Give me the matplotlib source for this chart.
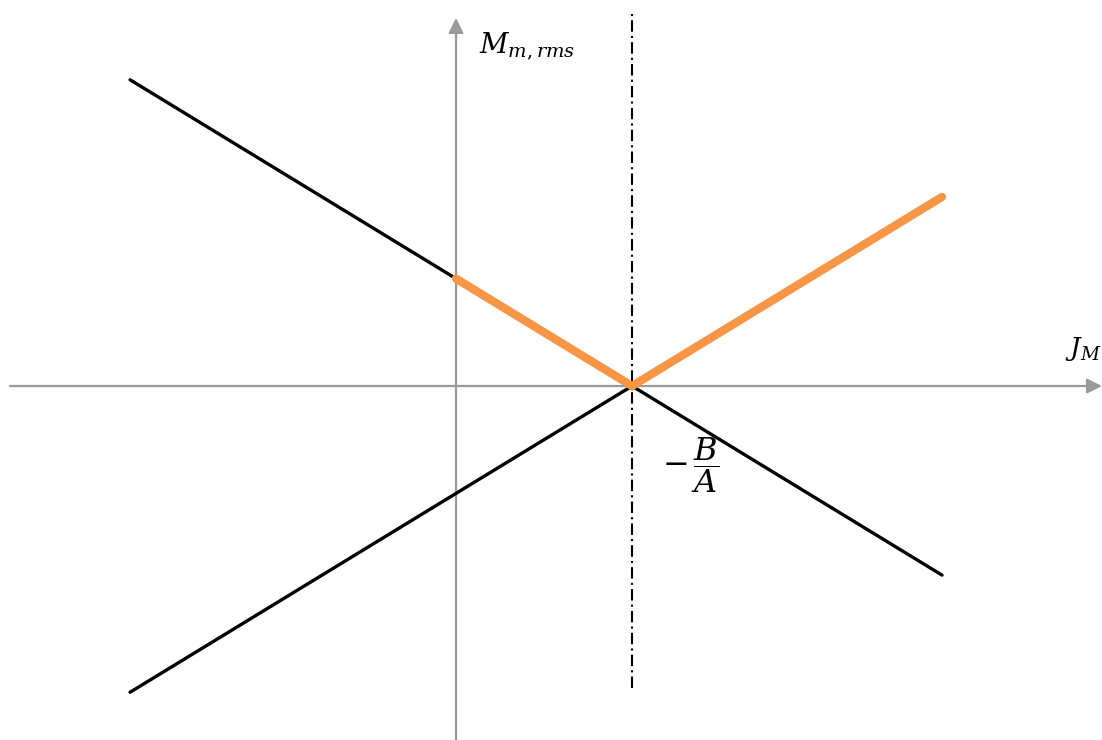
import numpy as np
import matplotlib.pyplot as plt

plt.rcParams['mathtext.fontset'] = 'dejavuserif'

# line M = A*J + B, zero at J = -B/A
A = -0.61
B = 0.61
j_zero = -B / A

# extents of the drawn lines
j_left = -1.852
j_right = 2.761

# view window and axis extents
x_lim = (-2.591, 3.670)
y_lim = (-2.011, 2.193)
x_axis_start = -2.534
y_axis_top = 2.091
guide_top = 2.136
guide_bottom = -1.716

j = np.array([j_left, j_right])
m_down = A * j + B
m_up = -(A * j + B)

j_env = np.array([0.0, j_zero, j_right])
m_env = np.abs(A * j_env + B)

fig = plt.figure(figsize=(11.02, 7.40), dpi=100)
ax = fig.add_axes([0, 0, 1, 1])
ax.set_xlim(*x_lim)
ax.set_ylim(*y_lim)
ax.axis('off')

axis_color = '#9a9a9a'
arrow = dict(arrowstyle='-|>,head_length=0.9,head_width=0.45', color=axis_color,
             lw=1.6, shrinkA=0, shrinkB=0)
ax.annotate('', xy=(x_lim[1], 0), xytext=(x_axis_start, 0), arrowprops=arrow)
ax.annotate('', xy=(0, y_axis_top), xytext=(0, y_lim[0]), arrowprops=arrow)

# vertical dash-dot guide at -B/A
ax.plot([j_zero, j_zero], [guide_bottom, guide_top], color='black', lw=1.5,
        linestyle=(0, (5.5, 2, 1, 2)))

ax.plot(j, m_down, color='black', lw=2.4, solid_capstyle='round', zorder=3)
ax.plot(j, m_up, color='black', lw=2.4, solid_capstyle='round', zorder=3)
ax.plot(j_env, m_env, color='#F79646', lw=6, solid_capstyle='round',
        solid_joinstyle='miter', zorder=4)

ax.text(0.13, 1.93, r'$M_{m,rms}$', fontsize=20, va='center', ha='left')
ax.text(3.46, 0.21, r'$J_M$', fontsize=19, va='center', ha='left')
ax.text(1.17, -0.45, r'$-\,\dfrac{B}{A}$', fontsize=23, va='center', ha='left')

fig.savefig('out.png', dpi=100)
